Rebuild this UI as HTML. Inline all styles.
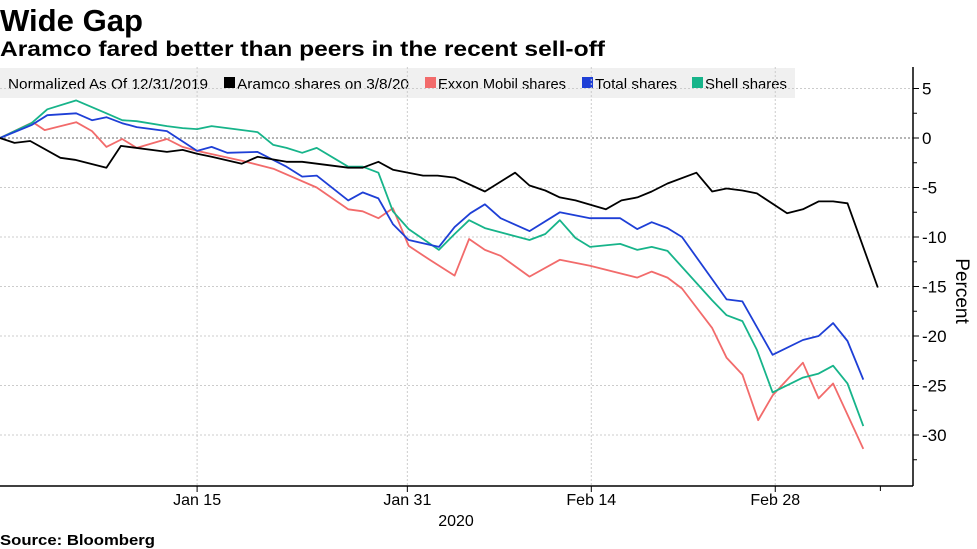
<!DOCTYPE html>
<html><head><meta charset="utf-8"><style>
body{margin:0;background:#fff;}
svg{display:block;font-family:"Liberation Sans",sans-serif;}
</style></head><body>
<svg id="chart" width="977" height="549" xmlns="http://www.w3.org/2000/svg">
<text x="0" y="31" font-size="31" font-weight="bold" textLength="143" lengthAdjust="spacingAndGlyphs">Wide Gap</text>
<text x="0" y="56" font-size="21" font-weight="bold" textLength="605" lengthAdjust="spacingAndGlyphs">Aramco fared better than peers in the recent sell-off</text>
<g>
<rect x="0" y="68" width="795" height="30" fill="#f0f0f0"/>
<text x="8" y="89" font-size="15" textLength="200" lengthAdjust="spacingAndGlyphs">Normalized As Of 12/31/2019</text>
<g><rect x="224" y="77" width="11" height="11" fill="#000"/><text x="237" y="89" font-size="15" textLength="172" lengthAdjust="spacingAndGlyphs">Aramco shares on 3/8/20</text></g>
<g><rect x="425" y="77" width="11" height="11" fill="#f26b6b"/><text x="438" y="89" font-size="15" textLength="128" lengthAdjust="spacingAndGlyphs">Exxon Mobil shares</text></g>
<g><rect x="582" y="77" width="11" height="11" fill="#1e3fd6"/><text x="595" y="89" font-size="15" textLength="82" lengthAdjust="spacingAndGlyphs">Total shares</text></g>
<g><rect x="692" y="77" width="11" height="11" fill="#17b48a"/><text x="705" y="89" font-size="15" textLength="82" lengthAdjust="spacingAndGlyphs">Shell shares</text></g>
</g>
<g id="grid"></g>
<g id="series"></g>
<g id="axes"></g>
<text transform="translate(956,291) rotate(90)" font-size="19" text-anchor="middle">Percent</text>
<text x="456" y="526" font-size="16" text-anchor="middle">2020</text>
<text x="0" y="545" font-size="15" font-weight="bold" textLength="155" lengthAdjust="spacingAndGlyphs">Source: Bloomberg</text>
</svg>
<script>
const yTicks=[5,0,-5,-10,-15,-20,-25,-30];
const xTickDays=[15,31,45,59];
const xTickLabels=["Jan 15","Jan 31","Feb 14","Feb 28"];
const aramcoDays=[0,1.1,2.3,4.6,5.7,8.1,9.2,12.7,13.9,15,16.1,18.4,19.6,21.8,23,26.5,27.6,28.8,29.9,32.2,33.3,34.6,36.9,39.2,40.3,41.5,42.6,43.8,46.1,47.3,48.5,49.6,50.8,53,54.2,55.3,56.5,57.6,59.9,61.1,62.3,63.4,64.5,66.8];
const aramcoVals=[0,-0.5,-0.3,-2,-2.2,-3,-0.8,-1.4,-1.2,-1.6,-1.9,-2.6,-1.9,-2.4,-2.4,-3,-3,-2.4,-3.2,-3.8,-3.8,-4,-5.4,-3.5,-4.8,-5.3,-6,-6.3,-7.2,-6.3,-6,-5.4,-4.6,-3.5,-5.4,-5.1,-5.3,-5.6,-7.6,-7.2,-6.4,-6.4,-6.6,-15.1];
const exxonDays=[0,2.5,3.4,5.8,7,8.1,9.3,10.4,12.7,13.9,15,18.4,20.8,24.1,26.5,27.6,28.8,29.9,31.1,32.7,34.6,35.7,36.9,38.1,40.3,42.6,44.9,48.5,49.6,50.8,51.9,54.2,55.3,56.5,57.7,58.8,61.1,62.3,63.4,65.7];
const exxonVals=[0,1.6,0.8,1.6,0.7,-0.9,-0.1,-1,-0.1,-0.9,-1.3,-2.3,-3.1,-5,-7.2,-7.4,-8.1,-7.1,-10.9,-12.3,-13.9,-10.2,-11.3,-11.9,-14,-12.3,-12.9,-14.1,-13.5,-14.1,-15.2,-19.2,-22.2,-23.9,-28.5,-26,-22.7,-26.3,-24.8,-31.4];
const totalDays=[0,2.4,3.6,5.8,7,8.1,9.3,10.4,12.7,15,16.1,17.3,19.6,21.8,23,24.1,26.5,27.6,28.8,29.9,31.1,33.4,34.6,35.8,36.9,38.1,40.3,42.6,44.9,47.2,48.5,49.6,50.8,51.9,55.3,56.5,58.8,61.1,62.3,63.4,64.5,65.7];
const totalVals=[0,1.3,2.3,2.5,1.8,2.1,1.5,1.1,0.7,-1.3,-0.9,-1.5,-1.4,-2.9,-3.9,-3.8,-6.3,-5.5,-6.1,-8.7,-10.3,-11,-9,-7.6,-6.7,-8.1,-9.4,-7.5,-8.1,-8.1,-9.2,-8.5,-9.1,-10,-16.3,-16.5,-21.9,-20.4,-20,-18.7,-20.5,-24.4];
const shellDays=[0,2.4,3.6,5.8,8.1,9.3,10.4,12.7,13.9,15,16.1,19.6,20.8,21.8,23,24.1,26.5,27.6,28.8,29.9,31.1,33.4,34.6,35.7,36.9,40.3,41.5,42.6,43.8,44.9,47.2,48.5,49.6,50.8,54.2,55.3,56.5,57.6,58.8,61.1,62.3,63.4,64.5,65.7];
const shellVals=[0,1.5,2.9,3.8,2.5,1.8,1.7,1.2,1,0.9,1.2,0.6,-0.7,-1,-1.5,-1,-2.9,-2.9,-3.5,-7.4,-9.2,-11.3,-9.7,-8.3,-9.1,-10.3,-9.7,-8.3,-10.1,-11,-10.7,-11.3,-11,-11.4,-16.4,-17.9,-18.5,-21.4,-25.7,-24.2,-23.8,-23,-24.8,-29.1];

const NS="http://www.w3.org/2000/svg";
const X0=0,PXD=13.14,Y0=138,PXV=9.9;
const xs=d=>X0+d*PXD;
const ys=v=>Y0-v*PXV;
const AX=913,AXT=67,AXB=486;
function mk(tag,attrs,parent){const e=document.createElementNS(NS,tag);for(const k in attrs)e.setAttribute(k,attrs[k]);parent.appendChild(e);return e;}
const grid=document.getElementById('grid'),axes=document.getElementById('axes'),series=document.getElementById('series');

yTicks.forEach(v=>{
  const g=mk('line',{x1:0,x2:AX,y1:ys(v),y2:ys(v),stroke:v===0?'#888':'#ccc','stroke-width':v===0?1.3:1,'stroke-dasharray':'2,2'},grid);
  
  
  const t=mk('line',{x1:AX,x2:AX+6,y1:ys(v),y2:ys(v),stroke:'#000'},axes);
  
  
  const m=mk('line',{x1:AX,x2:AX+4,y1:ys(v-2.5),y2:ys(v-2.5),stroke:'#000'},axes);
  
  
  const l=mk('text',{x:AX+9,y:ys(v)+6,'font-size':17},axes);
  l.textContent=v;
  
  
});
xTickDays.forEach((d,i)=>{
  const g=mk('line',{x1:xs(d),x2:xs(d),y1:AXT,y2:AXB,stroke:'#ccc','stroke-dasharray':'2,2'},grid);
  
  
  const t=mk('line',{x1:xs(d),x2:xs(d),y1:AXB,y2:AXB+6,stroke:'#000'},axes);
  
  
  const l=mk('text',{x:xs(d),y:AXB+19,'font-size':16,'text-anchor':'middle'},axes);
  l.textContent=xTickLabels[i];
  
  
});
const xt=mk('line',{x1:xs(67),x2:xs(67),y1:AXB,y2:AXB+5,stroke:'#000'},axes);


const ya=mk('line',{x1:AX,x2:AX,y1:AXT,y2:AXB,stroke:'#000','stroke-width':1.5},axes);


const xa=mk('line',{x1:0,x2:AX,y1:AXB,y2:AXB,stroke:'#000','stroke-width':1.5},axes);



function drawLine(days,vals,color,name){
  const pts=days.map((d,i)=>xs(d).toFixed(1)+','+ys(vals[i]).toFixed(1)).join(' ');
  const p=mk('polyline',{points:pts,fill:'none',stroke:color,'stroke-width':1.8,'stroke-linejoin':'round'},series);
  
  
}
drawLine(exxonDays,exxonVals,'#f26b6b','exxon-line');
drawLine(shellDays,shellVals,'#17b48a','shell-line');
drawLine(totalDays,totalVals,'#1e3fd6','total-line');
drawLine(aramcoDays,aramcoVals,'#000','aramco-line');
</script>
</body></html>
